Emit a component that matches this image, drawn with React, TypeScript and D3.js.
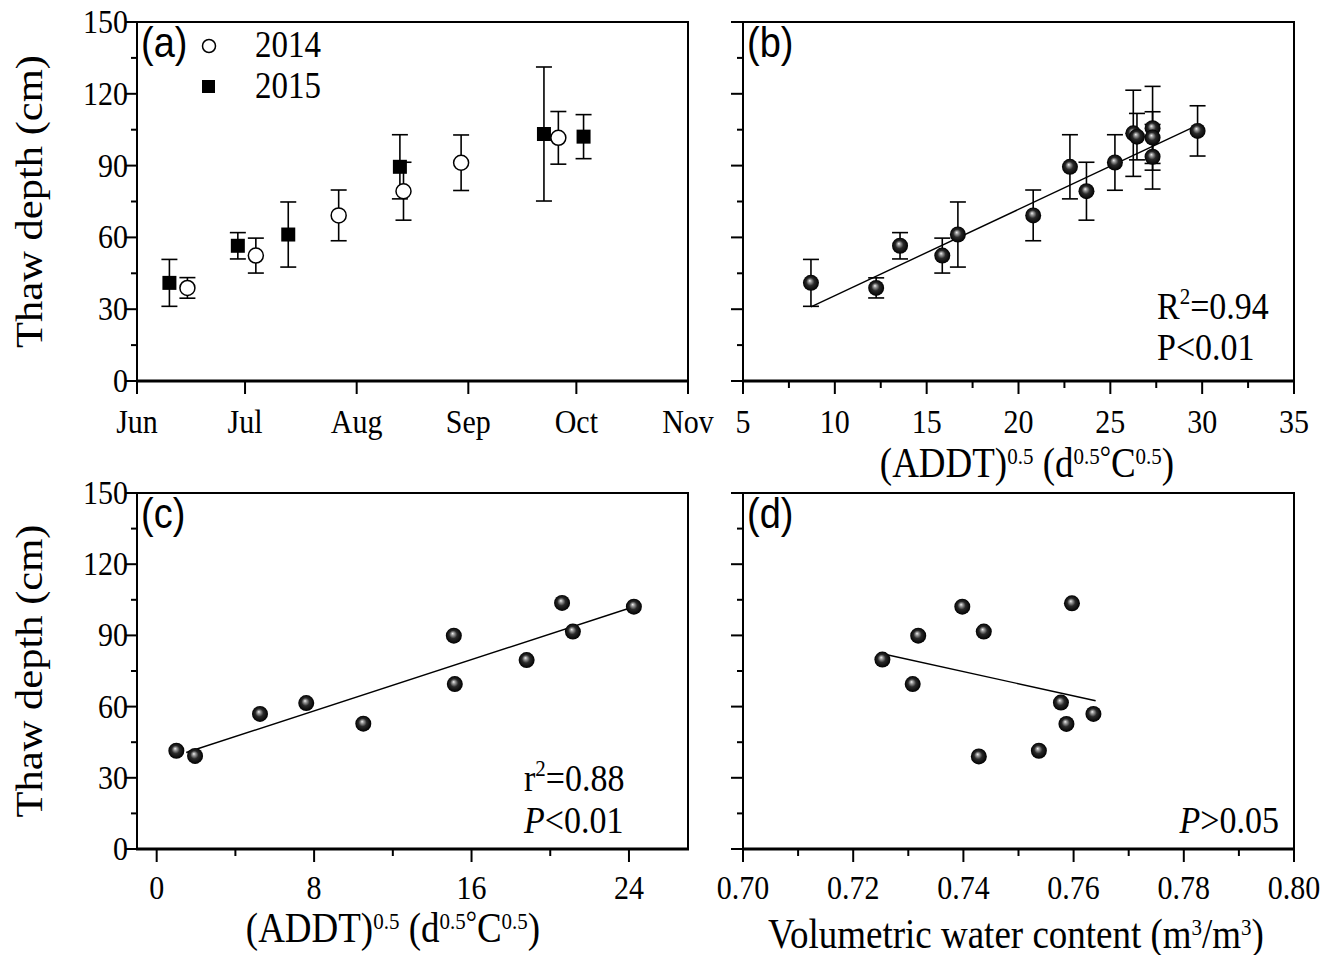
import * as d3 from "d3";
import React from "react";

const S = 1.12; // the original figure is a bit taller than wide

// (a) thaw depth through the season
const monthLabels = ["Jun", "Jul", "Aug", "Sep", "Oct", "Nov"];
const dates2014 = ["06-15", "07-04", "07-27", "08-14", "08-30", "09-26"];
const depth2014 = [38.9, 52.4, 69.2, 79.3, 91.2, 101.6];
const err2014 = [4.3, 7.3, 10.6, 12.1, 11.6, 11.0];
const dates2015 = ["06-10", "06-29", "07-13", "08-13", "09-22", "10-03"];
const depth2015 = [41.0, 56.5, 61.2, 89.5, 103.2, 102.1];
const err2015 = [9.8, 5.5, 13.6, 13.4, 28.0, 9.2];

// (b) thaw depth vs sqrt(ADDT), all sites
const addtB = [8.7, 12.25, 13.55, 15.85, 16.7, 20.8, 22.8, 23.7, 25.25, 26.25, 26.45, 27.3, 27.3, 27.3, 29.75];
const depthB = [41.0, 38.9, 56.5, 52.4, 61.2, 69.2, 89.5, 79.3, 91.3, 103.5, 102.1, 105.6, 101.7, 93.7, 104.5];
const errB = [9.8, 4.2, 5.5, 7.3, 13.6, 10.6, 13.4, 12.1, 11.6, 18.0, 9.7, 17.5, 10.8, 13.5, 10.5];
const fitB = { slope: 3.607, intercept: -0.43, from: 8.7, to: 29.9 };

// (c) thaw depth vs sqrt(ADDT)
const addtC = [1.0, 1.95, 5.25, 7.6, 10.5, 15.1, 15.15, 18.8, 20.6, 21.15, 24.25];
const depthC = [41.4, 39.2, 56.9, 61.5, 52.8, 89.9, 69.5, 79.6, 103.7, 91.6, 102.1];
const fitC = { slope: 2.7, intercept: 36.6, from: 1.5, to: 24.4 };

// (d) thaw depth vs volumetric water content
const vwcD = [0.7253, 0.7318, 0.7308, 0.7398, 0.7437, 0.7428, 0.7537, 0.7577, 0.7587, 0.7636, 0.7597];
const depthD = [79.8, 89.9, 69.5, 102.1, 91.6, 39.0, 41.4, 61.7, 52.7, 56.9, 103.5];
const fitD = { slope: -511.7, intercept: 453.4, from: 0.7255, to: 0.764 };

const yTicks = [0, 30, 60, 90, 120, 150];
const bTicks = [5, 10, 15, 20, 25, 30, 35];
const cTicks = [0, 8, 16, 24];
const dTicks = [0.7, 0.72, 0.74, 0.76, 0.78, 0.8];

const serif = "'Liberation Serif', 'Times New Roman', serif";
const sans = "'Liberation Sans', Arial, sans-serif";

const parseDay = d3.timeParse("%Y-%m-%d");
const day = (md: string) => parseDay(`2015-${md}`) as Date;

const left = [137, 743];
const W = 551;
const rows = [
  { top: 22, h: 359 },
  { top: 493, h: 356 },
];

type Txt = {
  x: number;
  y: number;
  size: number;
  anchor?: string;
  family?: string;
  italic?: boolean;
  rotate?: boolean;
  children: React.ReactNode;
};

const T = ({ x, y, size, anchor = "start", family = serif, italic, rotate, children }: Txt) => (
  <text
    transform={rotate ? `translate(${x},${y}) rotate(-90) scale(${S},1)` : `translate(${x},${y}) scale(1,${S})`}
    fontSize={size}
    fontFamily={family}
    fontStyle={italic ? "italic" : "normal"}
    textAnchor={anchor}
    fill="#000"
  >
    {children}
  </text>
);

// text pieces, each optionally lifted and/or followed by a raised exponent
type Piece = { t: string; sup?: string; italic?: boolean; size?: number; lift?: number };
const Rich = ({ pieces, size, supSize = 21, rise = 12 }: { pieces: Piece[]; size: number; supSize?: number; rise?: number }) => (
  <>
    {pieces.map((p, i) => {
      const prev = i > 0 ? pieces[i - 1] : null;
      const back = (prev && prev.sup ? rise : 0) + (prev?.lift ?? 0) - (p.lift ?? 0);
      return (
        <React.Fragment key={i}>
          <tspan dy={back} fontSize={p.size ?? size} fontStyle={p.italic ? "italic" : "normal"}>
            {p.t}
          </tspan>
          {p.sup && (
            <tspan dy={-rise} fontSize={supSize}>
              {p.sup}
            </tspan>
          )}
        </React.Fragment>
      );
    })}
  </>
);

type Frame = {
  x0: number;
  y0: number;
  h: number;
  x: (v: any) => number;
  y: d3.ScaleLinear<number, number>;
  major: any[];
  minor: any[];
  labels: string[];
  yLabels: boolean;
  labelDy: number;
};

const Axes = ({ x0, y0, h, x, y, major, minor, labels, yLabels, labelDy }: Frame) => {
  const yMinor = yTicks.slice(1).map((v, i) => (v + yTicks[i]) / 2);
  const bottom = y0 + h;
  return (
    <g>
      <rect x={x0} y={y0} width={W} height={h} fill="none" stroke="#000" strokeWidth={2} />
      <line x1={x0 - 1} x2={x0 + W + 1} y1={bottom} y2={bottom} stroke="#000" strokeWidth={3} />
      {yTicks.map((v) => (
        <line key={"ym" + v} x1={x0 - 12} x2={x0} y1={y(v)} y2={y(v)} stroke="#000" strokeWidth={2} />
      ))}
      {yMinor.map((v) => (
        <line key={"yn" + v} x1={x0 - 6} x2={x0} y1={y(v)} y2={y(v)} stroke="#000" strokeWidth={2} />
      ))}
      {yLabels &&
        yTicks.map((v) => (
          <T key={"yl" + v} x={x0 - 9} y={y(v) + 11} size={30} anchor="end">
            {v}
          </T>
        ))}
      {major.map((v, i) => (
        <line key={"xm" + i} x1={x(v)} x2={x(v)} y1={bottom} y2={bottom + 13} stroke="#000" strokeWidth={2} />
      ))}
      {minor.map((v, i) => (
        <line key={"xn" + i} x1={x(v)} x2={x(v)} y1={bottom} y2={bottom + 7} stroke="#000" strokeWidth={2} />
      ))}
      {major.map((v, i) => (
        <T key={"xl" + i} x={x(v)} y={bottom + labelDy} size={30} anchor="middle">
          {labels[i]}
        </T>
      ))}
    </g>
  );
};

const ErrBar = ({ cx, lo, hi }: { cx: number; lo: number; hi: number }) => (
  <g stroke="#000" strokeWidth={1.6}>
    <line x1={cx} x2={cx} y1={lo} y2={hi} />
    <line x1={cx - 8} x2={cx + 8} y1={lo} y2={lo} />
    <line x1={cx - 8} x2={cx + 8} y1={hi} y2={hi} />
  </g>
);

const Ball = ({ cx, cy }: { cx: number; cy: number }) => <circle cx={cx} cy={cy} r={8} fill="url(#sphere)" />;

const FitLine = ({ fit, x, y }: { fit: { slope: number; intercept: number; from: number; to: number }; x: any; y: any }) => (
  <line
    x1={x(fit.from)}
    x2={x(fit.to)}
    y1={y(fit.intercept + fit.slope * fit.from)}
    y2={y(fit.intercept + fit.slope * fit.to)}
    stroke="#000"
    strokeWidth={1.4}
  />
);

const addtPieces: Piece[] = [
  { t: "(ADDT)", sup: "0.5" },
  { t: " (d", sup: "0.5" },
  { t: "\u00b0", size: 28, lift: 8 },
  { t: "C", sup: "0.5" },
  { t: ")" },
];

const AddtTitle = ({ x, y }: { x: number; y: number }) => (
  <T x={x} y={y} size={37} anchor="middle">
    <Rich pieces={addtPieces} size={37} />
  </T>
);

export default function App() {
  const top = rows[0];
  const bot = rows[1];
  const yTop = d3.scaleLinear().domain([0, 150]).range([top.top + top.h, top.top]);
  const yBot = d3.scaleLinear().domain([0, 150]).range([bot.top + bot.h, bot.top]);

  const monthDates = monthLabels.map((_, i) => d3.timeMonth.offset(day("06-01"), i));
  const xA = d3.scaleTime().domain([day("06-01"), day("11-01")]).range([left[0], left[0] + W]);
  const xB = d3.scaleLinear().domain([5, 35]).range([left[1], left[1] + W]);
  const xC = d3.scaleLinear().domain([-1, 27]).range([left[0], left[0] + W]);
  const xD = d3.scaleLinear().domain([0.7, 0.8]).range([left[1], left[1] + W]);

  const bMinor = bTicks.slice(1).map((v, i) => (v + bTicks[i]) / 2);
  const cMinor = cTicks.slice(1).map((v, i) => (v + cTicks[i]) / 2);
  const dMinor = dTicks.slice(1).map((v, i) => (v + dTicks[i]) / 2);

  return (
    <svg width={1334} height={955} style={{ position: "absolute", left: 0, top: 0, background: "#fff" }}>
      <defs>
        <radialGradient id="sphere" cx="0.5" cy="0.5" r="0.5" fx="0.42" fy="0.36">
          <stop offset="0" stopColor="#f2f2f2" />
          <stop offset="0.18" stopColor="#a0a0a0" />
          <stop offset="0.5" stopColor="#2a2a2a" />
          <stop offset="1" stopColor="#000" />
        </radialGradient>
      </defs>

      {/* (a) */}
      <Axes
        x0={left[0]}
        y0={top.top}
        h={top.h}
        x={xA}
        y={yTop}
        major={monthDates}
        minor={[]}
        labels={monthLabels}
        yLabels
        labelDy={52}
      />
      {dates2015.map((d, i) => (
        <ErrBar key={"e15" + i} cx={xA(day(d))} lo={yTop(depth2015[i] - err2015[i])} hi={yTop(depth2015[i] + err2015[i])} />
      ))}
      {dates2014.map((d, i) => (
        <ErrBar key={"e14" + i} cx={xA(day(d))} lo={yTop(depth2014[i] - err2014[i])} hi={yTop(depth2014[i] + err2014[i])} />
      ))}
      {dates2015.map((d, i) => (
        <rect key={"s15" + i} x={xA(day(d)) - 7} y={yTop(depth2015[i]) - 7} width={14} height={14} fill="#000" />
      ))}
      {dates2014.map((d, i) => (
        <circle key={"c14" + i} cx={xA(day(d))} cy={yTop(depth2014[i])} r={7.5} fill="#fff" stroke="#000" strokeWidth={1.5} />
      ))}
      <T x={141} y={57} size={38} family={sans}>
        (a)
      </T>
      <circle cx={209} cy={46} r={6.5} fill="#fff" stroke="#000" strokeWidth={1.5} />
      <T x={255} y={57} size={33}>
        2014
      </T>
      <rect x={202} y={80} width={13} height={13} fill="#000" />
      <T x={255} y={98} size={33}>
        2015
      </T>
      <T x={42} y={top.top + top.h / 2} size={38} anchor="middle" rotate>
        Thaw depth (cm)
      </T>

      {/* (b) */}
      <Axes
        x0={left[1]}
        y0={top.top}
        h={top.h}
        x={xB}
        y={yTop}
        major={bTicks}
        minor={bMinor}
        labels={bTicks.map(String)}
        yLabels={false}
        labelDy={52}
      />
      {addtB.map((v, i) => (
        <ErrBar key={"eb" + i} cx={xB(v)} lo={yTop(depthB[i] - errB[i])} hi={yTop(depthB[i] + errB[i])} />
      ))}
      <FitLine fit={fitB} x={xB} y={yTop} />
      {addtB.map((v, i) => (
        <Ball key={"bb" + i} cx={xB(v)} cy={yTop(depthB[i])} />
      ))}
      <T x={747} y={57} size={38} family={sans}>
        (b)
      </T>
      <T x={1157} y={319} size={34}>
        <Rich pieces={[{ t: "R", sup: "2" }, { t: "=0.94" }]} size={34} rise={13} />
      </T>
      <T x={1157} y={360} size={34}>
        {"P<0.01"}
      </T>
      <AddtTitle x={1027} y={477} />

      {/* (c) */}
      <Axes
        x0={left[0]}
        y0={bot.top}
        h={bot.h}
        x={xC}
        y={yBot}
        major={cTicks}
        minor={cMinor}
        labels={cTicks.map(String)}
        yLabels
        labelDy={50}
      />
      <FitLine fit={fitC} x={xC} y={yBot} />
      {addtC.map((v, i) => (
        <Ball key={"bc" + i} cx={xC(v)} cy={yBot(depthC[i])} />
      ))}
      <T x={141} y={528} size={38} family={sans}>
        (c)
      </T>
      <T x={524} y={791} size={34}>
        <Rich pieces={[{ t: "r", sup: "2" }, { t: "=0.88" }]} size={34} rise={13} />
      </T>
      <T x={524} y={833} size={34}>
        <Rich pieces={[{ t: "P", italic: true }, { t: "<0.01" }]} size={34} />
      </T>
      <AddtTitle x={393} y={942} />
      <T x={42} y={bot.top + bot.h / 2} size={38} anchor="middle" rotate>
        Thaw depth (cm)
      </T>

      {/* (d) */}
      <Axes
        x0={left[1]}
        y0={bot.top}
        h={bot.h}
        x={xD}
        y={yBot}
        major={dTicks}
        minor={dMinor}
        labels={dTicks.map((v) => v.toFixed(2))}
        yLabels={false}
        labelDy={50}
      />
      <FitLine fit={fitD} x={xD} y={yBot} />
      {vwcD.map((v, i) => (
        <Ball key={"bd" + i} cx={xD(v)} cy={yBot(depthD[i])} />
      ))}
      <T x={747} y={528} size={38} family={sans}>
        (d)
      </T>
      <T x={1279} y={833} size={34} anchor="end">
        <Rich pieces={[{ t: "P", italic: true }, { t: ">0.05" }]} size={34} />
      </T>
      <T x={1016} y={948} size={37} anchor="middle">
        <Rich
          pieces={[{ t: "Volumetric water content (m", sup: "3" }, { t: "/m", sup: "3" }, { t: ")" }]}
          size={37}
          rise={12}
        />
      </T>
    </svg>
  );
}
